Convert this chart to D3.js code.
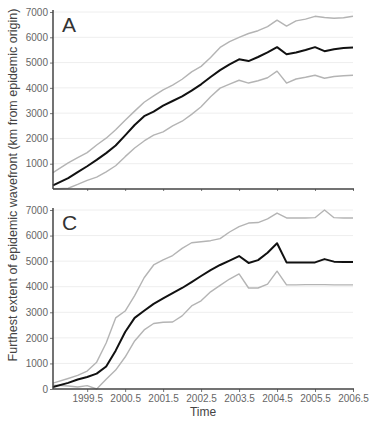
<!DOCTYPE html>
<html>
<head>
<meta charset="utf-8">
<script src="https://cdn.jsdelivr.net/npm/d3@7"></script>
<style>
  body { margin: 0; background: #fff; }
  svg { display: block; font-family: "Liberation Sans", Arial, sans-serif; }
</style>
</head>
<body>
<svg></svg>
<script>
// data (km from epidemic origin)
const times = [1998.6, 1999.0, 1999.25, 1999.5, 1999.75, 2000.0, 2000.25, 2000.5, 2000.75,
  2001.0, 2001.25, 2001.5, 2001.75, 2002.0, 2002.25, 2002.5, 2002.75, 2003.0, 2003.25,
  2003.5, 2003.75, 2004.0, 2004.25, 2004.5, 2004.75, 2005.0, 2005.25, 2005.5, 2005.75,
  2006.0, 2006.25, 2006.5];

const aMean  = [140, 430, 670, 900, 1150, 1420, 1720, 2120, 2530, 2880, 3060, 3300, 3480, 3660, 3890, 4140,
  4430, 4700, 4930, 5130, 5060, 5220, 5400, 5610, 5330, 5400, 5500, 5610, 5450, 5530, 5580, 5600];
const aUpper = [650, 1030, 1240, 1440, 1740, 2010, 2340, 2720, 3080, 3430, 3680, 3920, 4110, 4340, 4630, 4850,
  5200, 5600, 5830, 6000, 6150, 6260, 6420, 6680, 6440, 6650, 6720, 6830, 6780, 6750, 6770, 6830];
const aLower = [0, 30, 180, 340, 470, 680, 920, 1280, 1620, 1900, 2130, 2260, 2500, 2680, 2950, 3250,
  3650, 3990, 4150, 4300, 4190, 4280, 4400, 4660, 4190, 4350, 4420, 4500, 4380, 4450, 4480, 4500];

const cMean  = [80, 240, 370, 470, 600, 880, 1500, 2230, 2780, 3060, 3330, 3540, 3750, 3950, 4180, 4420,
  4650, 4850, 5020, 5200, 4930, 5040, 5330, 5700, 4950, 4950, 4950, 4950, 5080, 4980, 4970, 4970];
const cUpper = [230, 410, 530, 700, 1050, 1800, 2780, 3050, 3650, 4350, 4850, 5050, 5220, 5500, 5720, 5760,
  5800, 5880, 6140, 6350, 6490, 6510, 6650, 6880, 6690, 6690, 6690, 6700, 7000, 6700, 6690, 6690];
const cLower = [150, 120, 80, 130, 0, 380, 740, 1250, 1880, 2310, 2560, 2610, 2620, 2860, 3250, 3450,
  3800, 4050, 4300, 4500, 3950, 3950, 4100, 4610, 4070, 4070, 4080, 4080, 4080, 4070, 4070, 4070];

const yTicks = [0, 1000, 2000, 3000, 4000, 5000, 6000, 7000];
const xTicks = [1999.5, 2000.5, 2001.5, 2002.5, 2003.5, 2004.5, 2005.5, 2006.5];

const W = 376, H = 422;
const svg = d3.select("svg").attr("width", W).attr("height", H);

const x = d3.scaleLinear().domain([1998.6, 2006.5]).range([53, 353]);

const panels = [
  { letter: "A", mean: aMean, upper: aUpper, lower: aLower, y0: 189, y1: 12, labels: false, zero: false },
  { letter: "C", mean: cMean, upper: cUpper, lower: cLower, y0: 389, y1: 210, labels: true, zero: true }
];

panels.forEach(p => {
  const y = d3.scaleLinear().domain([0, 7000]).range([p.y0, p.y1]);
  const g = svg.append("g");

  // faint grid
  g.selectAll("line.grid")
    .data(yTicks.filter(d => d > 0))
    .enter().append("line")
    .attr("x1", x.range()[0]).attr("x2", x.range()[1])
    .attr("y1", d => y(d)).attr("y2", d => y(d))
    .attr("stroke", "#eeeeee").attr("stroke-width", 1);

  const line = d3.line().x((d, i) => x(times[i])).y(d => y(d));

  [[p.upper, "#b4b4b4", 1.4], [p.lower, "#b4b4b4", 1.4], [p.mean, "#111", 2]].forEach(s => {
    g.append("path")
      .datum(s[0])
      .attr("d", line)
      .attr("fill", "none")
      .attr("stroke", s[1])
      .attr("stroke-width", s[2])
      .attr("stroke-linejoin", "round");
  });

  // y axis
  const yAxis = d3.axisLeft(y)
    .tickValues(p.zero ? yTicks : yTicks.filter(d => d > 0))
    .tickSize(3).tickPadding(2)
    .tickFormat(d3.format("d"));
  const ya = g.append("g").attr("transform", `translate(${x.range()[0]},0)`).call(yAxis);
  ya.select(".domain").remove();
  g.append("line")
    .attr("x1", x.range()[0]).attr("x2", x.range()[0])
    .attr("y1", p.y1 - 2).attr("y2", p.y0)
    .attr("stroke", "#444").attr("stroke-width", 1.5);

  // x axis
  const xAxis = d3.axisBottom(x).tickValues(xTicks).tickSize(p.labels ? 3 : 2).tickPadding(3)
    .tickFormat(p.labels ? d3.format(".1f") : "");
  const xa = g.append("g").attr("transform", `translate(0,${p.y0})`).call(xAxis);
  xa.select(".domain").remove();
  g.append("line")
    .attr("x1", x.range()[0]).attr("x2", x.range()[1] + 1)
    .attr("y1", p.y0).attr("y2", p.y0)
    .attr("stroke", "#444").attr("stroke-width", 1.5);

  g.selectAll(".tick text").attr("fill", "#666").style("font-size", "10px");
  g.selectAll(".tick line").attr("stroke", "#777");

  g.append("text")
    .attr("x", 62).attr("y", p.y1 + 20)
    .attr("fill", "#333")
    .style("font-size", "21px")
    .text(p.letter);
});

svg.append("text")
  .attr("transform", "translate(17,185) rotate(-90)")
  .attr("text-anchor", "middle")
  .attr("fill", "#444")
  .style("font-size", "12.5px")
  .text("Furthest extent of epidemic wavefront (km from epidemic origin)");

svg.append("text")
  .attr("x", 203).attr("y", 416)
  .attr("text-anchor", "middle")
  .attr("fill", "#444")
  .style("font-size", "12px")
  .text("Time");
</script>
</body>
</html>
